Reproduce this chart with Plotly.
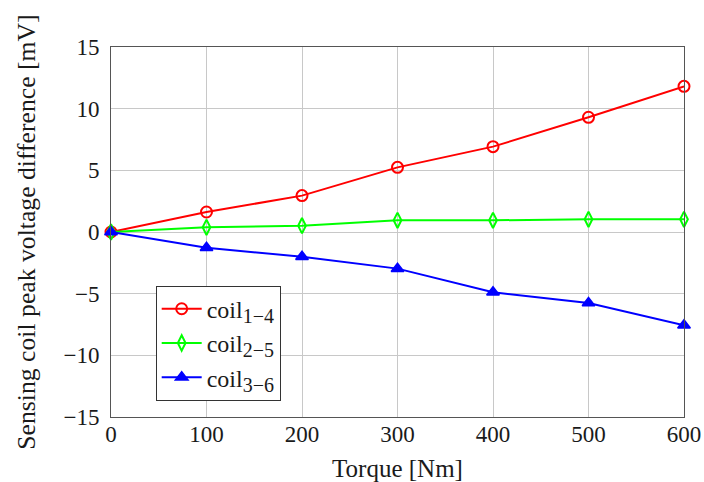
import plotly.graph_objects as go

torque = [0, 100, 200, 300, 400, 500, 600]
coil14 = [0, 1.62, 2.95, 5.24, 6.92, 9.3, 11.81]
coil25 = [0, 0.38, 0.51, 0.95, 0.95, 1.03, 1.03]
coil36 = [0, -1.28, -2.0, -2.97, -4.89, -5.75, -7.56]
names = ["1−4", "2−5", "3−6"]

font = "Liberation Serif"
sub = lambda s: 'coil<sub><span style="font-size:20px">' + s + '</span></sub>'
fig = go.Figure()
fig.add_trace(go.Scatter(x=torque, y=coil14, mode="lines+markers", name=sub(names[0]),
                         cliponaxis=False,
                         line=dict(color="#ff0000", width=2),
                         marker=dict(symbol="circle-open", size=11, color="#ff0000", line=dict(width=2))))
fig.add_trace(go.Scatter(x=torque, y=coil25, mode="lines+markers", name=sub(names[1]),
                         cliponaxis=False,
                         line=dict(color="#00ff00", width=2),
                         marker=dict(symbol="diamond-tall-open", size=11, color="#00ff00", line=dict(width=2))))
fig.add_trace(go.Scatter(x=torque, y=coil36, mode="lines+markers", name=sub(names[2]),
                         cliponaxis=False,
                         line=dict(color="#0000ff", width=2),
                         marker=dict(symbol="triangle-up", size=11, color="#0000ff", line=dict(width=1.5, color="#0000ff"))))

axis_common = dict(showline=True, linecolor="#555", linewidth=1, mirror=True,
                   showgrid=True, gridcolor="#c8c8c8", gridwidth=1, zeroline=False,
                   automargin=False,
                   tickfont=dict(family=font, size=23, color="#1a1a1a"))
fig.update_xaxes(range=[0, 600], tickvals=[0, 100, 200, 300, 400, 500, 600],
                 ticks="", ticklabelstandoff=-4,
                 title=dict(text="Torque [Nm]", font=dict(family=font, size=25, color="#1a1a1a"), standoff=14),
                 **axis_common)
fig.update_yaxes(range=[-15, 15], tickvals=[-15, -10, -5, 0, 5, 10, 15],
                 ticks="outside", ticklen=6, tickcolor="rgba(0,0,0,0)",
                 title=dict(text="Sensing coil peak voltage difference [mV]", font=dict(family=font, size=25.7, color="#1a1a1a"), standoff=20),
                 **axis_common)
fig.update_layout(width=704, height=482, margin=dict(l=111, r=20, t=47, b=65),
                  plot_bgcolor="white", paper_bgcolor="white",
                  legend=dict(x=0.078, y=0.355, xanchor="left", yanchor="top",
                              bgcolor="white", bordercolor="#333", borderwidth=1,
                              font=dict(family=font, size=24, color="#1a1a1a"),
                              tracegroupgap=0, itemwidth=40))
fig.write_html("out.html")
